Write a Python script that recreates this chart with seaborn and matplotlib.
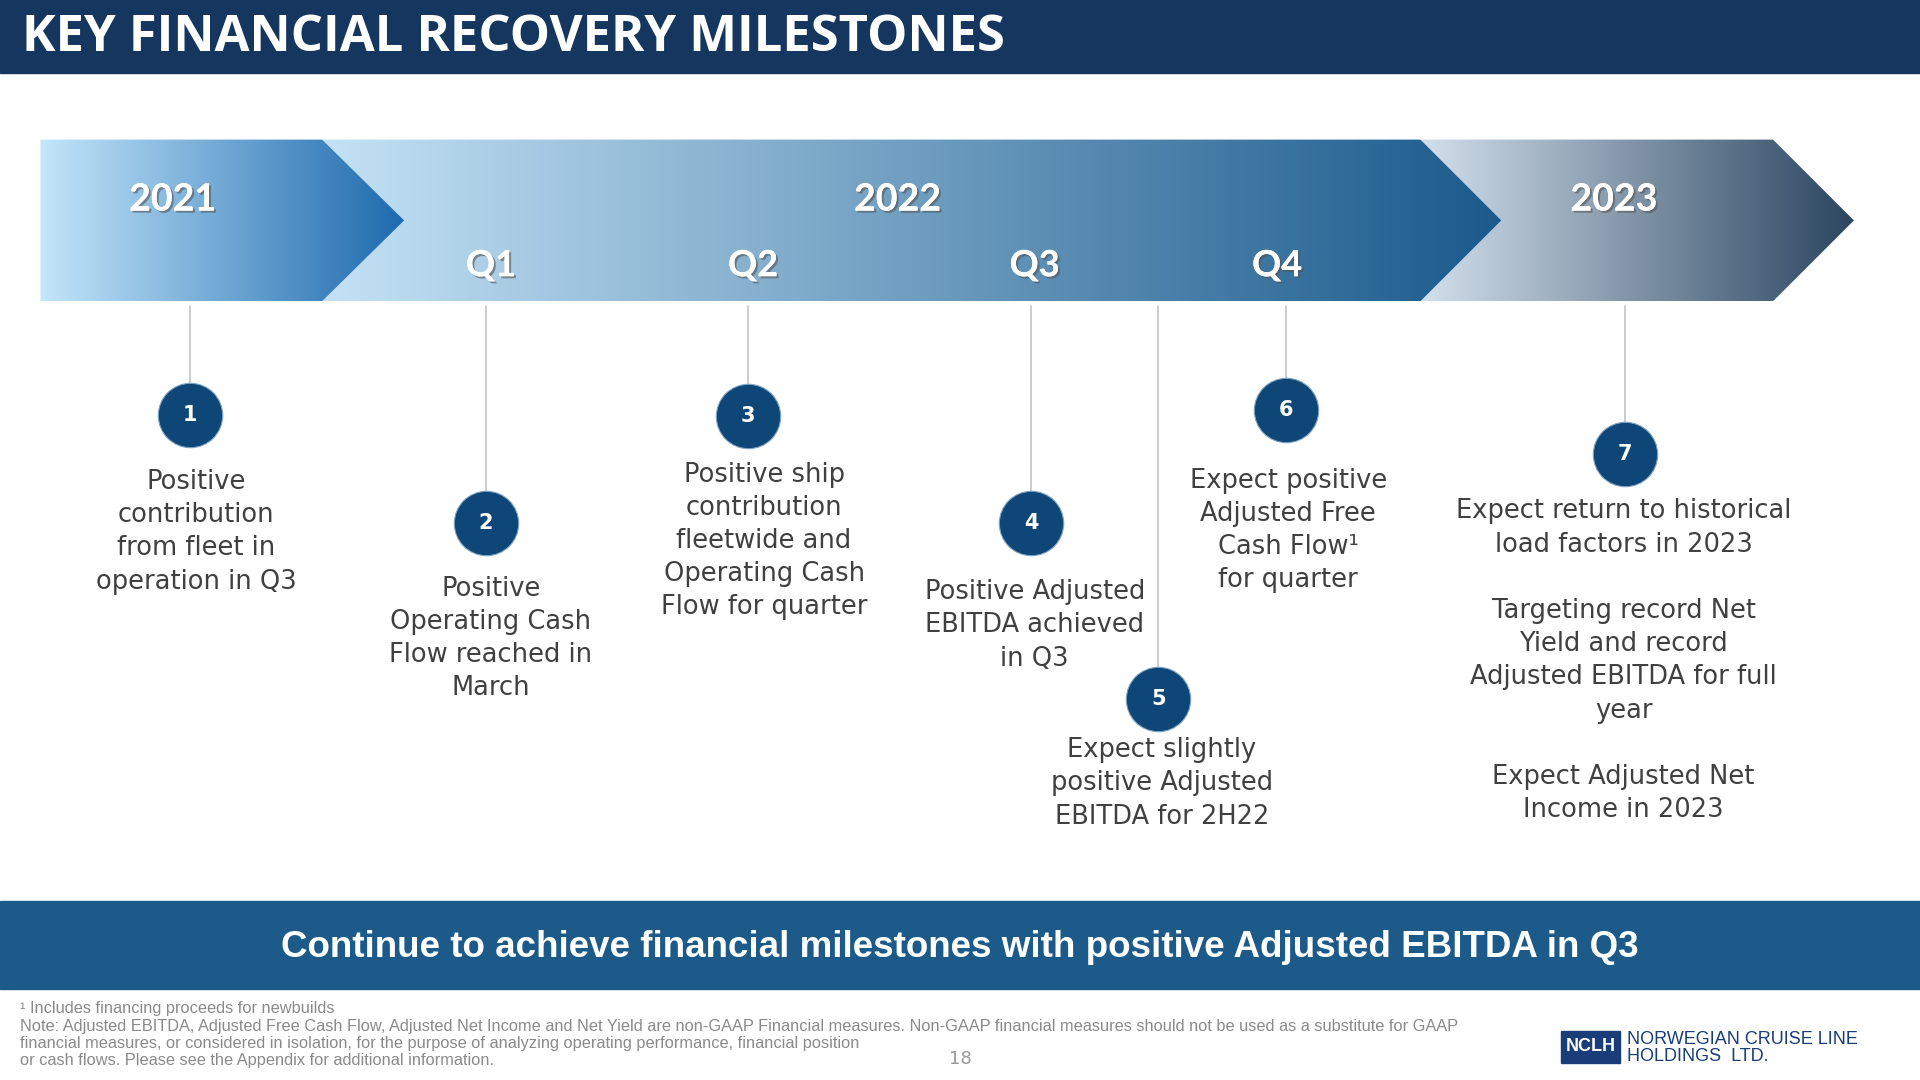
import numpy as np
import pandas as pd
import matplotlib
matplotlib.use("Agg")
import matplotlib.pyplot as plt
import seaborn as sns
from matplotlib.patches import Polygon, Rectangle
from matplotlib.colors import LinearSegmentedColormap
import matplotlib.patheffects as pe

title = "KEY FINANCIAL RECOVERY MILESTONES"
years = ["2021", "2022", "2023"]
quarters = ["Q1", "Q2", "Q3", "Q4"]
milestone_ids = [1, 2, 3, 4, 5, 6, 7]
milestone_texts = [
    "Positive\ncontribution\nfrom fleet in\noperation in Q3",
    "Positive\nOperating Cash\nFlow reached in\nMarch",
    "Positive ship\ncontribution\nfleetwide and\nOperating Cash\nFlow for quarter",
    "Positive Adjusted\nEBITDA achieved\nin Q3",
    "Expect slightly\npositive Adjusted\nEBITDA for 2H22",
    "Expect positive\nAdjusted Free\nCash Flow\u00b9\nfor quarter",
    "Expect return to historical\nload factors in 2023\n\nTargeting record Net\nYield and record\nAdjusted EBITDA for full\nyear\n\nExpect Adjusted Net\nIncome in 2023",
]
banner = "Continue to achieve financial milestones with positive Adjusted EBITDA in Q3"
footnote_lines = [
    "\u00b9 Includes financing proceeds for newbuilds",
    "Note: Adjusted EBITDA, Adjusted Free Cash Flow, Adjusted Net Income and Net Yield are non-GAAP Financial measures. Non-GAAP financial measures should not be used as a substitute for GAAP",
    "financial measures, or considered in isolation, for the purpose of analyzing operating performance, financial position",
    "or cash flows. Please see the Appendix for additional information.",
]

# layout (reference pixel space 1568 x 882)
year_x = [141, 733, 1318]
quarter_x = [401, 615, 845, 1043]
circ_x = [155, 397, 611, 842, 946, 1050, 1327]
circ_y = [339, 427, 340, 427, 571, 335, 371]
text_x = [160, 401, 624, 845, 949, 1052, 1326]
text_y = [383, 470, 377, 473, 602, 382, 407]

sns.set_theme(style="white")
plt.rcParams['font.family'] = ['DejaVu Sans']
fig = plt.figure(figsize=(19.2, 10.8), dpi=100)
ax = fig.add_axes([0, 0, 1, 1])
ax.set_xlim(0, 1568)
ax.set_ylim(882, 0)
ax.axis("off")

# header
ax.add_patch(Rectangle((0, 0), 1568, 60, color="#15365f", zorder=1))
ax.text(18, 31, title, color="white", fontsize=36.5, fontweight="bold", va="center",
        family=["Open Sans", "DejaVu Sans"], zorder=2)

def grad_arrow(x0, x1, tip, c0, c1, z):
    poly = Polygon([(x0, 114), (x1, 114), (tip, 180), (x1, 246), (x0, 246)], closed=True,
                   facecolor="none", edgecolor="none")
    ax.add_patch(poly)
    cmap = LinearSegmentedColormap.from_list("g", [c0, c1])
    grad = np.linspace(0, 1, 256).reshape(1, -1)
    im = ax.imshow(grad, cmap=cmap, extent=(x0, tip, 246, 114), aspect="auto", zorder=z)
    im.set_clip_path(poly)

grad_arrow(1160, 1448, 1514, "#d3e0ec", "#2c4661", 3)
grad_arrow(263, 1160, 1226, "#c4e2f5", "#1b5a8c", 4)
grad_arrow(33, 263, 330, "#c3e6fa", "#1e6aae", 5)
ax.set_xlim(0, 1568)
ax.set_ylim(882, 0)

shadow = [pe.withSimplePatchShadow(offset=(1.5, -1.5), shadow_rgbFace="#555555", alpha=0.6), pe.Normal()]
for y, x in zip(years, year_x):
    ax.text(x, 163, y, color="white", fontsize=27, fontweight="bold", ha="center", va="center",
            family=["Lato", "DejaVu Sans"], path_effects=shadow, zorder=10)
for q, x in zip(quarters, quarter_x):
    ax.text(x, 217, q, color="white", fontsize=26, fontweight="bold", ha="center", va="center",
            family=["Lato", "DejaVu Sans"], path_effects=shadow, zorder=10)

# connector lines
for x, y in zip(circ_x, circ_y):
    ax.plot([x, x], [250, y - 26], color="#c8c8c8", lw=1.3, zorder=6)

df = pd.DataFrame({"x": circ_x, "y": circ_y, "id": milestone_ids})
sns.scatterplot(data=df, x="x", y="y", ax=ax, s=2150, color="#0d4677", edgecolor="#7fa3c4",
                linewidth=0.8, zorder=7, legend=False)
ax.set_xlabel(""); ax.set_ylabel("")
for i, x, y in zip(milestone_ids, circ_x, circ_y):
    ax.text(x, y, str(i), color="white", fontsize=15, fontweight="bold", ha="center", va="center", zorder=8)
for t, x, y in zip(milestone_texts, text_x, text_y):
    ax.text(x, y, t, color="#404040", fontsize=18.5, ha="center", va="top", linespacing=1.36, zorder=8)

# bottom banner
ax.add_patch(Rectangle((0, 736), 1568, 72, color="#1c5a8a", zorder=1))
ax.text(784, 774, banner, color="white", fontsize=26.5, fontweight="bold", ha="center", va="center",
        family=["Liberation Sans", "DejaVu Sans"], zorder=2)

for k, line in enumerate(footnote_lines):
    ax.text(16, 824 + 14 * k, line, color="#8a8a8a", fontsize=11.8, ha="left", va="center",
            family=["Liberation Sans", "DejaVu Sans"])
ax.text(784, 865, "18", color="#999999", fontsize=13, ha="center", va="center")

ax.add_patch(Rectangle((1275, 842), 48, 26, color="#1a3d7a", zorder=2))
ax.text(1299, 855, "NCLH", color="white", fontsize=13, fontweight="bold", ha="center", va="center",
        family=["Liberation Sans", "DejaVu Sans"], zorder=3)
ax.text(1329, 856, "NORWEGIAN CRUISE LINE\nHOLDINGS  LTD.", color="#1a3d7a", fontsize=13,
        ha="left", va="center", linespacing=0.95, family=["Liberation Sans", "DejaVu Sans"])

fig.savefig("out.png", dpi=100)
